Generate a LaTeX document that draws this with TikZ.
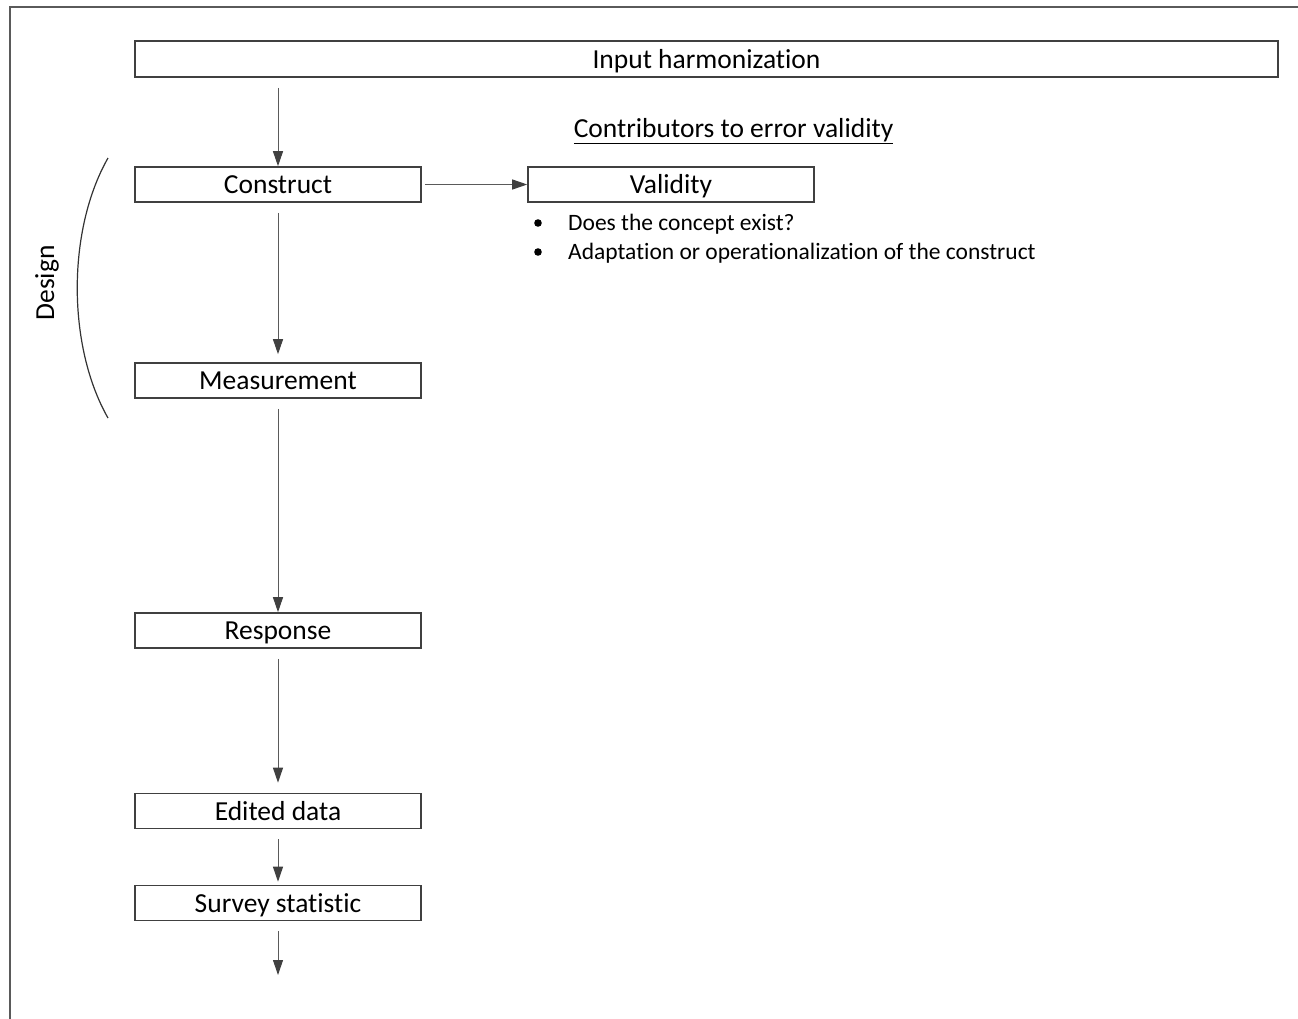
\documentclass[tikz,border=0pt]{standalone}
\usepackage{fontspec}
\setmainfont{Carlito}[Ligatures=NoCommon]
\usetikzlibrary{arrows.meta}
\definecolor{edge}{HTML}{404040}
\definecolor{wire}{HTML}{5A5A5A}
\begin{document}
\begin{tikzpicture}[x=1pt,y=-1pt,
  box/.style={draw=edge,line width=1.6pt,fill=white,minimum height=35pt,
    inner sep=0pt,text height=20pt,text depth=2pt,
    font=\fontsize{27.5}{30}\selectfont},
  flow/.style={draw=wire,line width=1pt,
    -{Triangle[length=15pt,width=10pt,color=edge]}},
  label/.style={font=\fontsize{27.5}{30}\selectfont,inner sep=0pt,
    text height=20pt,text depth=2pt},
  note/.style={font=\fontsize{23.5}{26}\selectfont,inner sep=0pt,anchor=west,
    text height=17pt,text depth=2pt}]
\useasboundingbox (0,0) rectangle (1298,1018);
% outer frame
\draw[wire,line width=1.8pt] (10,1030) -- (10,7) -- (1310,7);

% boxes
\node[box,minimum width=1143pt,minimum height=36pt] (input) at (706.5,59) {Input harmonization};
\node[box,minimum width=286pt] (construct) at (278,184.5) {Construct};
\node[box,minimum width=286pt] (validity) at (671,184.5) {Validity};
\node[box,minimum width=286pt] (measure) at (278,380.5) {Measurement};
\node[box,minimum width=286pt] (response) at (278,630.5) {Response};
\node[box,minimum width=286pt] (edited) at (278,811) {Edited data};
\node[box,minimum width=286pt] (stat) at (278,903) {Survey statistic};
\coordinate (out) at (278,975);

% heading and notes
\node[label] (head) at (733.5,128) {\underline{Contributors to error validity}};
\node[note] (b1) at (568,223) {Does the concept exist?};
\node[note] (b2) at (568,252) {Adaptation or operationalization of the construct};
\fill (538,223) circle (3.8pt);
\fill (538,252) circle (3.8pt);

% design bracket
\draw[black!80,line width=1.2pt] (108,158) .. controls (67,230) and (67,346) .. (108,418);
\node[label,rotate=90] (design) at (45,283) {Design};

% connectors
\draw[flow,shorten <=10pt] (input.south -| construct.north) -- (construct.north);
\draw[flow,shorten <=3pt] (construct.east) -- (validity.west);
\draw[flow,shorten <=10pt,shorten >=8pt] (construct.south) -- (measure.north);
\draw[flow,shorten <=10pt] (measure.south) -- (response.north);
\draw[flow,shorten <=10pt,shorten >=10pt] (response.south) -- (edited.north);
\draw[flow,shorten <=10pt,shorten >=3pt] (edited.south) -- (stat.north);
\draw[flow,shorten <=10pt] (stat.south) -- (out);
\end{tikzpicture}
\end{document}
